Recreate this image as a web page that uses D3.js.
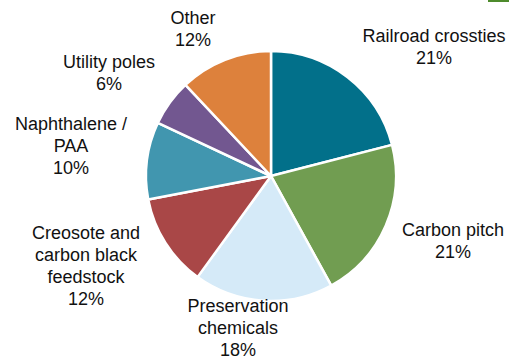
<!DOCTYPE html>
<html>
<head>
<meta charset="utf-8">
<script src="https://cdn.jsdelivr.net/npm/d3@7"></script>
<style>
  html, body { margin: 0; padding: 0; background: #fff; }
  svg { display: block; }
  text { font-family: "Liberation Sans", Arial, sans-serif; font-size: 18px; fill: #111; }
</style>
</head>
<body>
<svg id="chart" width="509" height="360"></svg>
<script>
// Coal tar end uses, share of total (%)
const categories = [
  "Railroad crossties",
  "Carbon pitch",
  "Preservation chemicals",
  "Creosote and carbon black feedstock",
  "Naphthalene / PAA",
  "Utility poles",
  "Other"
];
const shares = [21, 21, 18, 12, 10, 6, 12];
const colors = ["#02708A", "#719D51", "#D5EAF8", "#A94747", "#4196AF", "#725790", "#DD813C"];

// Label text broken into lines, and where each label block is centred
const labelLines = [
  ["Railroad crossties", "21%"],
  ["Carbon pitch", "21%"],
  ["Preservation", "chemicals", "18%"],
  ["Creosote and", "carbon black", "feedstock", "12%"],
  ["Naphthalene /", "PAA", "10%"],
  ["Utility poles", "6%"],
  ["Other", "12%"]
];
const labelAnchors = [
  [434, 36], [453, 230], [238, 306], [86, 233], [71, 124], [109, 62], [193, 18]
];
const lineStep = 22;

const svg = d3.select("#chart");
const cx = 271, cy = 176, radius = 125;

const data = categories.map((c, i) => ({ name: c, value: shares[i], color: colors[i], i }));

const pie = d3.pie().sort(null).value(d => d.value).startAngle(0).endAngle(2 * Math.PI);
const arc = d3.arc().innerRadius(0).outerRadius(radius);

const g = svg.append("g").attr("transform", `translate(${cx},${cy})`);
g.selectAll("path.slice")
  .data(pie(data))
  .join("path")
  .attr("class", "slice")
  .attr("d", arc)
  .attr("fill", d => d.data.color)
  .attr("stroke", "#fff")
  .attr("stroke-width", 2.5)
  .attr("stroke-linejoin", "round");

// Category labels
data.forEach((d, i) => {
  const [x, y] = labelAnchors[i];
  const t = svg.append("text")
    .attr("text-anchor", "middle")
    .attr("dominant-baseline", "central");
  labelLines[i].forEach((line, k) => {
    t.append("tspan").attr("x", x).attr("y", y + k * lineStep).text(line);
  });
});

// Small accent bar in the top-right corner
svg.append("rect")
  .attr("x", 488).attr("y", 0).attr("width", 21).attr("height", 2)
  .attr("fill", "#4E8B2C");
</script>
</body>
</html>
